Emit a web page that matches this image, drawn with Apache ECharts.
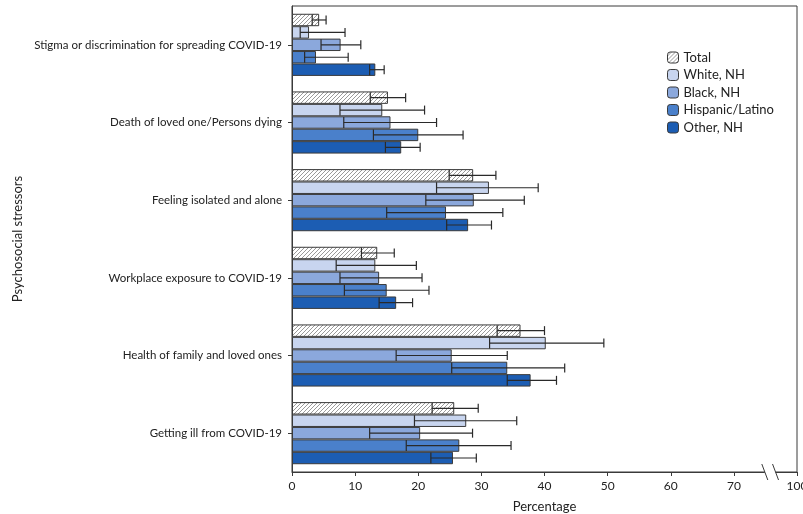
<!DOCTYPE html>
<html><head><meta charset="utf-8">
<script src="https://cdn.jsdelivr.net/npm/echarts@6/dist/echarts.min.js"></script>
<style>html,body{margin:0;padding:0;background:#fff}#c{width:803px;height:514px}</style>
</head><body><div id="c"></div>
<script>
const categories = ['Stigma or discrimination for spreading COVID-19','Death of loved one/Persons dying','Feeling isolated and alone','Workplace exposure to COVID-19','Health of family and loved ones','Getting ill from COVID-19'];
const seriesNames = ['Total','White, NH','Black, NH','Hispanic/Latino','Other, NH'];
const totalVal = [4.3,15.2,28.7,13.5,36.2,25.7];
const totalLo  = [3.2,12.4,24.9,11.0,32.5,22.2];
const totalHi  = [5.4,18.0,32.3,16.2,40.0,29.5];
const whiteVal = [2.7,14.3,31.2,13.2,40.2,27.6];
const whiteLo  = [1.3,7.6,22.9,7.0,31.3,19.4];
const whiteHi  = [8.4,21.0,39.0,19.7,49.4,35.6];
const blackVal = [7.7,15.6,28.8,13.8,25.3,20.3];
const blackLo  = [4.6,8.2,21.2,7.6,16.5,12.3];
const blackHi  = [10.9,22.9,36.8,20.6,34.1,28.6];
const hispVal  = [3.8,20.0,24.4,15.0,34.1,26.5];
const hispLo   = [2.0,12.9,15.0,8.3,25.3,18.1];
const hispHi   = [8.9,27.1,33.4,21.7,43.2,34.7];
const otherVal = [13.2,17.3,27.9,16.5,37.8,25.5];
const otherLo  = [12.3,14.8,24.5,13.8,34.1,22.0];
const otherHi  = [14.6,20.3,31.6,19.1,41.9,29.2];
const xTickLabels = ['0','10','20','30','40','50','60','70','100'];

const vals = [totalVal, whiteVal, blackVal, hispVal, otherVal];
const los = [totalLo, whiteLo, blackLo, hispLo, otherLo];
const his = [totalHi, whiteHi, blackHi, hispHi, otherHi];

// hatch pattern
const pc = document.createElement('canvas');
pc.width = 4; pc.height = 4;
const g = pc.getContext('2d');
g.fillStyle = '#ffffff'; g.fillRect(0,0,4,4);
g.strokeStyle = '#9a9a9a'; g.lineWidth = 1;
g.beginPath();
g.moveTo(0,4); g.lineTo(4,0);
g.moveTo(-2,2); g.lineTo(2,-2);
g.moveTo(2,6); g.lineTo(6,2);
g.stroke();

const colors = [{image: pc, repeat: 'repeat'}, '#c8d5ef', '#8ba8dc', '#4a80cb', '#1c5db3'];
const font = 'Lato';
const CATGAP = 0.2;

const barSeries = seriesNames.map((n, i) => ({
  name: n, type: 'bar', data: vals[i], barGap: '0%', barCategoryGap: (CATGAP*100)+'%',
  itemStyle: {color: colors[i], borderColor: '#3a3a3a', borderWidth: 1},
  emphasis: {disabled: true}, z: 2
}));

const ciData = [];
for (let s = 0; s < 5; s++) for (let c = 0; c < categories.length; c++) ciData.push([los[s][c], c, his[s][c], s]);

const ciSeries = {
  type: 'custom', name: 'CI', z: 5, silent: true,
  encode: {x: [0, 2], y: 1},
  data: ciData,
  renderItem: function (params, api) {
    const c = api.value(1), s = api.value(3);
    const p0 = api.coord([api.value(0), c]);
    const p1 = api.coord([api.value(2), c]);
    const band = api.size([0, 1])[1];
    const bw = band * (1 - CATGAP) / 5;
    const y = p0[1] - band * (1 - CATGAP) / 2 + bw * (s + 0.5);
    const h = 4.5;
    const st = {stroke: '#2a2a2a', lineWidth: 1.2};
    return {type: 'group', children: [
      {type: 'line', shape: {x1: p0[0], y1: y, x2: p1[0], y2: y}, style: st},
      {type: 'line', shape: {x1: p0[0], y1: y - h - 1, x2: p0[0], y2: y + h + 1}, style: st},
      {type: 'line', shape: {x1: p1[0], y1: y - h, x2: p1[0], y2: y + h}, style: st}
    ]};
  }
};

const chart = echarts.init(document.getElementById('c'), null, {renderer: 'canvas'});
chart.setOption({
  animation: false,
  backgroundColor: '#fff',
  grid: {left: 292, right: 6, top: 6, bottom: 42, containLabel: false, outerBoundsMode: 'none',
    show: true, borderColor: '#3a3a3a', borderWidth: 1},
  legend: {
    data: seriesNames, orient: 'vertical', left: 662, top: 46, itemWidth: 11, itemHeight: 11, itemGap: 4.5,
    textStyle: {fontFamily: font, fontSize: 13, color: '#222'},
    itemStyle: {borderColor: '#3a3a3a', borderWidth: 1}
  },
  xAxis: {
    type: 'value', min: 0, max: 80, interval: 10,
    name: 'Percentage', nameLocation: 'middle', nameGap: 28, nameMoveOverlap: false,
    nameTextStyle: {fontFamily: font, fontSize: 13, color: '#222'},
    axisLine: {show: true, lineStyle: {color: '#3a3a3a'}},
    axisTick: {show: true, length: 4, lineStyle: {color: '#3a3a3a'}},
    axisLabel: {fontFamily: font, fontSize: 12, color: '#222', margin: 8,
      formatter: function (v) { return xTickLabels[Math.round(v / 10)]; }},
    splitLine: {show: false}
  },
  yAxis: {
    type: 'category', data: categories, inverse: true,
    name: 'Psychosocial stressors', nameLocation: 'middle', nameGap: 268, nameMoveOverlap: false,
    nameTextStyle: {fontFamily: font, fontSize: 13, color: '#222'},
    axisLine: {show: true, lineStyle: {color: '#3a3a3a'}},
    axisTick: {show: true, alignWithLabel: true, length: 4, lineStyle: {color: '#3a3a3a'}},
    axisLabel: {fontFamily: font, fontSize: 11.5, color: '#222', margin: 10}
  },
  series: barSeries.concat([ciSeries])
});

// axis break marks
const pa = chart.convertToPixel({gridIndex: 0}, [74.9, 0]);
const pb = chart.convertToPixel({gridIndex: 0}, [76.6, 0]);
const yAx = chart.getHeight() - 42;
chart.setOption({graphic: [
  {type: 'rect', shape: {x: pa[0], y: yAx - 3, width: pb[0] - pa[0], height: 6}, style: {fill: '#fff'}, z: 100},
  {type: 'line', shape: {x1: pa[0] - 3, y1: yAx - 8, x2: pa[0] + 3, y2: yAx + 8}, style: {stroke: '#3a3a3a', lineWidth: 1}, z: 101},
  {type: 'line', shape: {x1: pb[0] - 3, y1: yAx - 8, x2: pb[0] + 3, y2: yAx + 8}, style: {stroke: '#3a3a3a', lineWidth: 1}, z: 101}
]});
</script></body></html>
